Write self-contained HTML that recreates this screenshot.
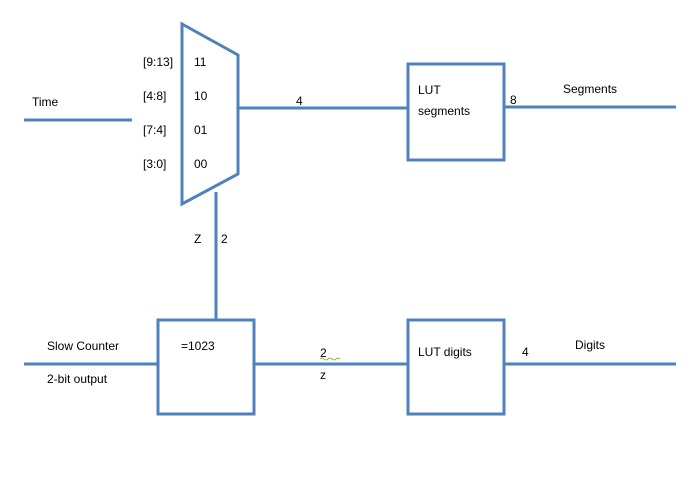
<!DOCTYPE html>
<html><head><meta charset="utf-8"><style>
body{margin:0;background:#fff;}
svg text{font-family:"Liberation Sans",sans-serif;font-size:12px;fill:#000;}
</style></head><body>
<svg width="700" height="477" xmlns="http://www.w3.org/2000/svg">
<g stroke="#4f81bd" stroke-width="3" fill="none">
<polygon points="182,24 238,55 238,174 182,204"/>
<line x1="24" y1="120" x2="132" y2="120"/>
<line x1="238" y1="108" x2="408" y2="108"/>
<rect x="408" y="64" width="96" height="96"/>
<line x1="504" y1="107" x2="676" y2="107"/>
<line x1="216" y1="192" x2="216" y2="320"/>
<rect x="158" y="320" width="96" height="94"/>
<line x1="24" y1="364" x2="158" y2="364"/>
<line x1="254" y1="364" x2="408" y2="364"/>
<rect x="408" y="320" width="96" height="94"/>
<line x1="504" y1="364" x2="676" y2="364"/>
</g>
<text x="32" y="106">Time</text>
<text x="143" y="66">[9:13]</text>
<text x="194" y="66">11</text>
<text x="143" y="100">[4:8]</text>
<text x="194" y="100">10</text>
<text x="143" y="134">[7:4]</text>
<text x="194" y="134">01</text>
<text x="143" y="168">[3:0]</text>
<text x="194" y="168">00</text>
<text x="296" y="105">4</text>
<text x="418" y="94">LUT</text>
<text x="418" y="115">segments</text>
<text x="510" y="104">8</text>
<text x="563" y="93">Segments</text>
<text x="194" y="243">Z</text>
<text x="221" y="243">2</text>
<text x="47" y="350">Slow Counter</text>
<text x="47" y="383">2-bit output</text>
<text x="181" y="350">=1023</text>
<text x="320" y="357">2</text>
<path d="M320,359 q2,-2 4,0 t4,0 t4,0 t4,0 t4,0" stroke="#6a0" stroke-width="0.8" fill="none"/>
<text x="320" y="379">z</text>
<text x="418" y="356">LUT digits</text>
<text x="522" y="356">4</text>
<text x="575" y="349">Digits</text>
</svg>
</body></html>
